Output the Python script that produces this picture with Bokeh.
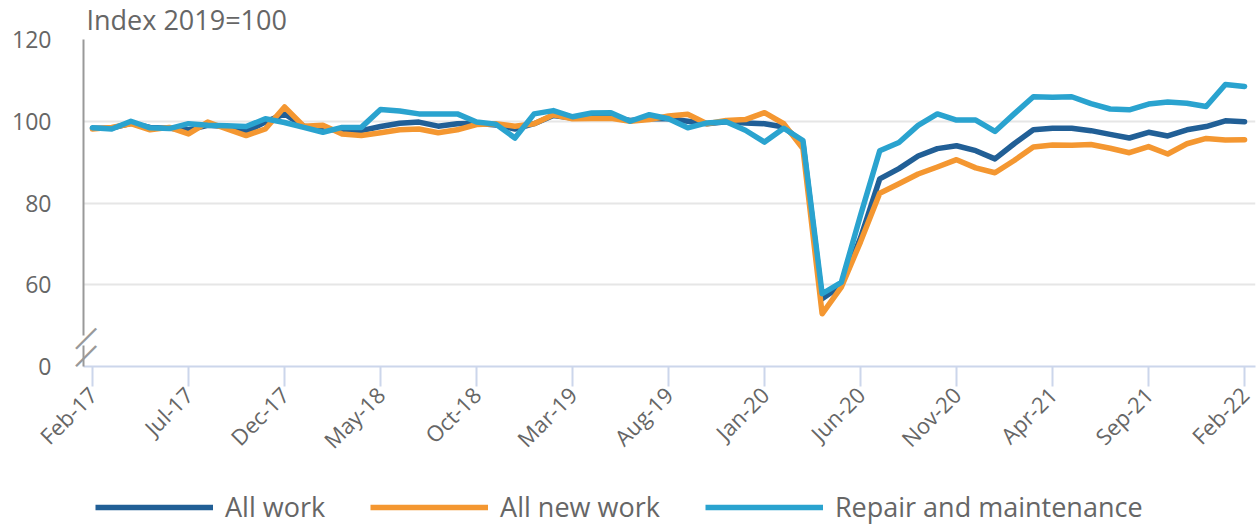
import numpy as np
from bokeh.plotting import figure
from bokeh.layouts import column
from bokeh.models import Range1d, FixedTicker, Legend, LegendItem, LinearAxis, Title
from bokeh.embed import file_html
from bokeh.resources import INLINE

# ---- data (Index 2019=100), monthly Feb-17 .. Feb-22 ----
all_work = [98.3, 98.3, 99.5, 98.5, 98.3, 97.9, 99.0, 98.7, 97.5, 99.8,
            101.8, 98.8, 98.2, 97.7, 97.7, 98.7, 99.5, 99.8, 98.8, 99.4,
            99.5, 99.1, 98.1, 99.4, 101.4, 100.8, 101.0, 101.0, 100.2, 100.6,
            100.6, 100.0, 99.4, 99.9, 99.6, 99.4, 98.6, 94.7, 56.6, 59.8,
            71.5, 85.9, 88.4, 91.5, 93.3, 94.0, 92.8, 90.8, 94.5, 97.9,
            98.3, 98.3, 97.7, 96.8, 95.9, 97.3, 96.4, 97.9, 98.7, 100.1, 99.9]
all_new_work = [98.1, 98.5, 99.4, 97.9, 98.5, 96.9, 99.8, 98.1, 96.5, 98.1,
                103.5, 98.8, 99.0, 96.9, 96.5, 97.2, 97.9, 98.1, 97.2, 97.9,
                99.2, 99.4, 98.8, 99.4, 101.6, 100.6, 100.7, 100.7, 100.0, 100.4,
                101.3, 101.7, 99.4, 100.2, 100.4, 102.1, 99.4, 93.3, 52.9, 59.4,
                70.5, 82.4, 84.7, 87.1, 88.8, 90.6, 88.6, 87.4, 90.4, 93.7,
                94.2, 94.1, 94.3, 93.4, 92.3, 93.8, 92.0, 94.5, 95.8, 95.4, 95.5]
repair = [98.4, 98.1, 100.0, 98.4, 98.2, 99.4, 99.0, 98.9, 98.7, 100.6,
          99.7, 98.5, 97.3, 98.5, 98.5, 102.9, 102.5, 101.8, 101.8, 101.8,
          99.8, 99.3, 95.9, 101.8, 102.6, 101.1, 102.0, 102.1, 100.0, 101.6,
          100.6, 98.4, 99.6, 99.9, 97.8, 94.9, 98.3, 95.3, 57.8, 60.6,
          77.0, 92.8, 94.8, 99.0, 101.8, 100.3, 100.3, 97.5, 101.8, 106.0,
          105.9, 106.0, 104.3, 103.0, 102.8, 104.2, 104.7, 104.4, 103.6, 109.0, 108.5]

tick_labels = ["Feb-17", "Jul-17", "Dec-17", "May-18", "Oct-18", "Mar-19", "Aug-19",
               "Jan-20", "Jun-20", "Nov-20", "Apr-21", "Sep-21", "Feb-22"]
tick_step = 5
y_ticks = [40, 60, 80, 100, 120]
y_tick_labels = ["0", "60", "80", "100", "120"]

series_names = ["All work", "All new work", "Repair and maintenance"]
colors = ["#215f96", "#f49731", "#2aa3cf"]
series = [all_work, all_new_work, repair]

# axis-break geometry (value units on the y scale)
break_gap = (45.14, 47.58)
break_marks = [45.87, 50.15]

x = np.arange(len(all_work))
FONT = "Open Sans"
TXT = "#666666"
AX = "#999999"

p = figure(width=1257, height=486, output_backend="svg", toolbar_location=None,
           x_range=Range1d(-0.469, 60.57), y_range=Range1d(40, 120),
           min_border_left=83, min_border_right=2, min_border_top=39,
           min_border_bottom=120, title=None)
p.outline_line_color = None
p.background_fill_color = "white"

# x axis
xa = p.xaxis[0]
xa.ticker = FixedTicker(ticks=[i * tick_step for i in range(len(tick_labels))])
xa.major_label_overrides = {i * tick_step: lab for i, lab in enumerate(tick_labels)}
xa.axis_line_color = "#ccd6eb"
xa.axis_line_width = 2
xa.major_tick_line_color = "#ccd6eb"
xa.major_tick_line_width = 2
xa.major_tick_out = 20
xa.major_tick_in = 0
xa.minor_tick_line_color = None
xa.major_label_orientation = np.pi / 4
xa.major_label_text_font = FONT
xa.major_label_text_font_size = "22px"
xa.major_label_text_color = TXT
xa.major_label_standoff = 4


def line_only_axis(lo, hi):
    return LinearAxis(ticker=FixedTicker(ticks=[]), bounds=(lo, hi),
                      axis_line_color=AX, axis_line_width=2,
                      major_tick_out=0, major_tick_in=0, minor_tick_out=0, minor_tick_in=0,
                      major_label_standoff=0)


# y axis A: upper part of the axis line (re-use default axis)
ya = p.yaxis[0]
ya.ticker = FixedTicker(ticks=[])
ya.bounds = (break_gap[1], 120)
ya.axis_line_color = AX
ya.axis_line_width = 2
ya.major_tick_out = 0
ya.major_tick_in = 0
ya.minor_tick_out = 0
ya.minor_tick_in = 0
ya.major_label_standoff = 0

# y axis E: lower part of the axis line
p.add_layout(line_only_axis(40, break_gap[0]), "left")

# y axis B: break marks
yb = LinearAxis(ticker=FixedTicker(ticks=break_marks),
                major_label_overrides={v: "\u2014" for v in break_marks},
                axis_line_color=None,
                major_tick_out=0, major_tick_in=0, minor_tick_out=0, minor_tick_in=0,
                major_label_orientation=np.pi / 4, major_label_text_font=FONT,
                major_label_text_font_size="31px", major_label_text_color=AX,
                major_label_standoff=-11)
p.add_layout(yb, "left")

# y axis C: tick labels
yc = LinearAxis(ticker=FixedTicker(ticks=y_ticks),
                major_label_overrides=dict(zip(y_ticks, y_tick_labels)),
                axis_line_color=None, major_tick_line_color=None, minor_tick_line_color=None,
                major_tick_out=0, major_tick_in=0, minor_tick_out=0, minor_tick_in=0,
                major_label_text_font=FONT, major_label_text_font_size="23px",
                major_label_text_color=TXT, major_label_standoff=-12)
p.add_layout(yc, "left")

p.xgrid.grid_line_color = None
p.ygrid.ticker = FixedTicker(ticks=y_ticks[1:])
p.ygrid.grid_line_color = "#e6e6e6"
p.ygrid.grid_line_width = 2

for vals, col in zip(series, colors):
    p.line(x, vals, line_color=col, line_width=5.5, line_join="round", line_cap="round")

p.add_layout(Title(text="Index 2019=100", align="left", offset=3, standoff=0,
                   vertical_align="top", text_font=FONT, text_font_size="27px",
                   text_color=TXT, text_font_style="normal"), "above")

# legend strip
lg = figure(width=1257, height=40, output_backend="svg", toolbar_location=None,
            x_axis_location=None, y_axis_location=None, min_border=0,
            x_range=Range1d(0, 1), y_range=Range1d(0, 1))
lg.outline_line_color = None
lg.grid.grid_line_color = None
lg_renderers = [lg.line(x, vals, line_color=col, line_width=5.5)
                for vals, col in zip(series, colors)]
legend = Legend(items=[LegendItem(label=n, renderers=[r]) for n, r in zip(series_names, lg_renderers)],
                location=(12, 1), orientation="horizontal", glyph_width=118, glyph_height=30,
                label_standoff=12, spacing=45, padding=0, margin=0,
                border_line_color=None, background_fill_alpha=0,
                label_text_font=FONT, label_text_font_size="27px", label_text_color=TXT,
                label_height=30)
lg.add_layout(legend)

layout = column(p, lg, spacing=0)
open("out.html", "w").write(file_html(layout, INLINE))
